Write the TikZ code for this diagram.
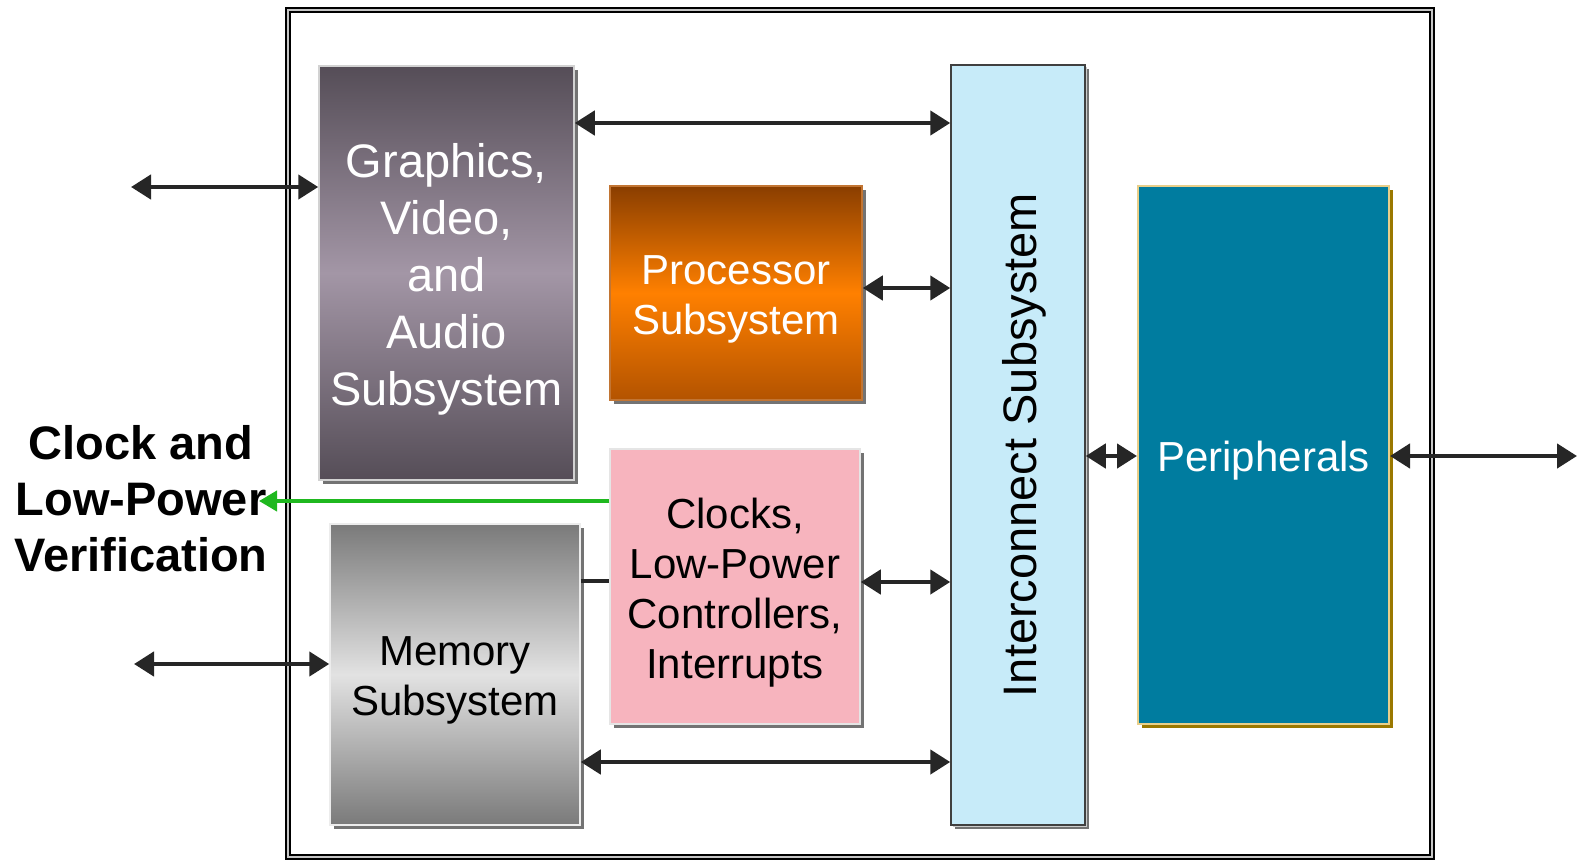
\documentclass[tikz,border=0pt]{standalone}
\usepackage{fontspec}
\setmainfont{Liberation Sans}
\usetikzlibrary{arrows.meta,shadows,calc}
\definecolor{gfxdark}{HTML}{554D57}
\definecolor{gfxlight}{HTML}{A396A6}
\definecolor{cpudark}{HTML}{8A3E00}
\definecolor{cpumid}{HTML}{FF8000}
\definecolor{cpubot}{HTML}{B35300}
\definecolor{clkpink}{HTML}{F7B4BE}
\definecolor{memdark}{HTML}{7A7A7A}
\definecolor{memlight}{HTML}{E2E2E2}
\definecolor{icblue}{HTML}{C7EBF9}
\definecolor{periteal}{HTML}{007C9F}
\definecolor{perigold}{HTML}{E8CF8A}
\definecolor{perishade}{HTML}{9A7800}
\definecolor{verigreen}{HTML}{1FB81F}
\tikzset{
  x=1pt, y=-1pt,
  block/.style={rectangle, inner sep=0pt, align=center, font=\fontsize{42}{50}\selectfont,
    drop shadow={shadow xshift=4pt, shadow yshift=-4pt, fill=black!55, opacity=1}},
  biarrow/.style={line width=4.5pt, draw=black!85,
    {Triangle[length=20pt,width=24pt]}-{Triangle[length=20pt,width=24pt]}},
  onearrow/.style={line width=4pt, draw=verigreen,
    -{Triangle[length=18pt,width=20pt]}},
  frame/.style={draw=black, line width=1.6pt, double=gray!45, double distance=2pt},
  lbl/.style={yshift=-6pt},
}
\begin{document}
\begin{tikzpicture}
\useasboundingbox (0,0) rectangle (1577,862);

% outer frame
\draw[frame] (288,10) rectangle (1432,857);

% blocks
\node[block, draw=gray!35, line width=1.5pt, text=white,
  top color=gfxdark, bottom color=gfxdark, middle color=gfxlight,
  minimum width=255pt, minimum height=414pt] (gfx) at (446.5,273) {};
\node[lbl, text=white, align=center, font=\fontsize{47}{57}\selectfont] (gfxtext) at (gfx)
  {Graphics,\\Video,\\and\\Audio\\Subsystem};

\node[block, draw=cpubot!80, line width=1.5pt,
  top color=cpudark, bottom color=cpubot, middle color=cpumid,
  minimum width=252pt, minimum height=214pt] (cpu) at (736,293) {};
\node[lbl, text=white, align=center, font=\fontsize{42}{50}\selectfont] (cputext) at (cpu)
  {Processor\\Subsystem};

\node[block, draw=gray!20, line width=1.5pt, fill=clkpink,
  minimum width=250pt, minimum height=275pt] (clk) at (735,586.5) {};
\node[lbl, text=black, align=center, font=\fontsize{42}{50}\selectfont] (clktext) at (clk)
  {Clocks,\\Low-Power\\Controllers,\\Interrupts};

\node[block, draw=gray!15, line width=1.5pt,
  top color=memdark, bottom color=memdark, middle color=memlight,
  minimum width=250pt, minimum height=301pt] (mem) at (455,674.5) {};
\node[lbl, text=black, align=center, font=\fontsize{42}{50}\selectfont] (memtext) at (mem)
  {Memory\\Subsystem};

\node[block, draw=black!75, line width=1.5pt, fill=icblue,
  drop shadow={shadow xshift=2pt, shadow yshift=-2pt, fill=black!20, opacity=1},
  minimum width=134pt, minimum height=760pt] (ic) at (1018,445) {};
\node[rotate=90, font=\fontsize{47}{56}\selectfont, text=black] (ictext) at (1024,445)
  {Interconnect Subsystem};

\node[block, draw=perigold, line width=2pt, fill=periteal,
  drop shadow={shadow xshift=4pt, shadow yshift=-4pt, fill=perishade, opacity=1},
  minimum width=251pt, minimum height=538pt] (peri) at (1263.5,455) {};
\node[lbl, text=white, font=\fontsize{42}{50}\selectfont] (peritext) at (peri) {Peripherals};

% verification label
\node[align=center, font=\fontsize{47}{56}\selectfont\bfseries] (veri) at (141,499)
  {Clock and\\Low-Power\\Verification};

% free ends of the external ports
\coordinate (inA) at (131,187);
\coordinate (inB) at (134,664);
\coordinate (outR) at (1577,456);
\coordinate (veritip) at (259,501);

% connectors
\draw[biarrow] (inA) -- (gfx.west |- inA);
\draw[biarrow] (inB) -- (mem.west |- inB);
\draw[biarrow] (gfx.east |- 0,123) -- (ic.west |- 0,123);
\draw[biarrow] (cpu.east |- 0,288) -- (ic.west |- 0,288);
\draw[biarrow] (clk.east |- 0,582) -- (ic.west |- 0,582);
\draw[biarrow] (mem.east |- 0,762) -- (ic.west |- 0,762);
\draw[biarrow] (ic.east |- 0,456) -- (peri.west |- 0,456);
\draw[biarrow] (peri.east |- 0,456) -- (outR);
\draw[line width=4.5pt, draw=black!85] (mem.east |- 0,581) -- (clk.west |- 0,581);
\draw[onearrow] (clk.west |- veritip) -- (veritip);
\end{tikzpicture}
\end{document}
